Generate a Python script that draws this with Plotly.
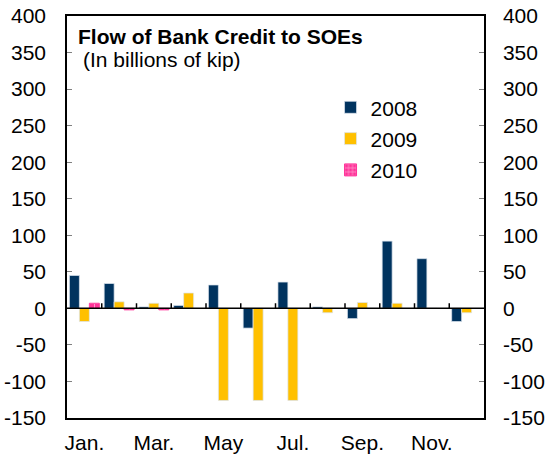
import plotly.graph_objects as go

months = ["Jan.", "Feb.", "Mar.", "Apr.", "May", "Jun.", "Jul.", "Aug.", "Sep.", "Oct.", "Nov.", "Dec."]
shown_months = ["Jan.", "Mar.", "May", "Jul.", "Sep.", "Nov."]
flow_2008 = [45, 34, 2, 4, 32, -27, 36, 2, -14, 92, 68, -18]
flow_2009 = [-18, 9, 7, 21, -126, -126, -126, -6, 8, 7, 0, -6]
flow_2010 = [7, -2, -2, None, None, None, None, None, None, None, None, None]
y_ticks = [-150, -100, -50, 0, 50, 100, 150, 200, 250, 300, 350, 400]
y_tick_text = [str(v) for v in y_ticks]  # plain hyphen for negatives

font = "Liberation Sans, Arial, sans-serif"
edge = dict(color="rgba(220,228,238,0.9)", width=0.8)

fig = go.Figure()
fig.add_bar(x=months, y=flow_2008, name="2008", marker=dict(color="#00335F", line=edge),
            legendgroup="a")
fig.add_bar(x=months, y=flow_2009, name="2009", marker=dict(color="#FFC000", line=edge),
            legendgroup="b")
fig.add_bar(x=months, y=flow_2010, name="2010",
            marker=dict(color="#FF3399", line=dict(color="#FF3399", width=1),
                        pattern=dict(shape="+", fgcolor="white", bgcolor="#FF3399",
                                     size=5, solidity=0.35)),
            legendgroup="c")
# invisible trace so the mirrored right-hand axis is drawn
fig.add_scatter(x=[months[0]], y=[0], yaxis="y2", mode="markers",
                marker=dict(opacity=0), showlegend=False, hoverinfo="skip")

# zero line with small upward ticks at month boundaries
fig.add_hline(y=0, line=dict(color="black", width=1.5))
for i in range(1, len(months)):
    fig.add_shape(type="line", xref="x", yref="y", x0=i - 0.5, x1=i - 0.5, y0=0, y1=7,
                  line=dict(color="black", width=1.5))

axis_font = dict(family=font, size=21, color="black")
y_common = dict(range=[-150, 400], tickvals=y_ticks, ticktext=y_tick_text,
                ticks="inside", ticklen=5, tickcolor="#808080", showline=True,
                linecolor="black", linewidth=1.5, showgrid=False, zeroline=False,
                tickfont=axis_font, automargin=False)
fig.update_layout(
    width=547, height=456,
    margin=dict(l=67, r=63, t=16, b=38),
    plot_bgcolor="white", paper_bgcolor="white",
    barmode="group", bargap=0.14, bargroupgap=0,
    font=axis_font,
    xaxis=dict(type="category", categoryorder="array", categoryarray=months,
               range=[-0.5, len(months) - 0.5],
               tickvals=shown_months, ticktext=shown_months, ticks="",
               showline=True, linecolor="black", linewidth=1.5, mirror=True,
               showgrid=False, tickfont=axis_font, ticklabelstandoff=5,
               automargin=False),
    yaxis=dict(**y_common, ticklabelstandoff=15),
    yaxis2=dict(**y_common, overlaying="y", side="right", ticklabelstandoff=13),
    legend=dict(x=0.632, y=0.823, xanchor="left", yanchor="top", bgcolor="rgba(0,0,0,0)",
                font=axis_font, traceorder="grouped", tracegroupgap=1,
                itemwidth=30),
    showlegend=True,
    annotations=[
        dict(text="<b>Flow of Bank Credit to SOEs</b>", xref="paper", yref="paper",
             x=0.022, y=0.949, xanchor="left", yanchor="middle", showarrow=False,
             font=dict(family=font, size=21, color="black")),
        dict(text="(In billions of kip)", xref="paper", yref="paper",
             x=0.033, y=0.891, xanchor="left", yanchor="middle", showarrow=False,
             font=dict(family=font, size=21, color="black")),
    ],
)

fig.write_html("out.html")
